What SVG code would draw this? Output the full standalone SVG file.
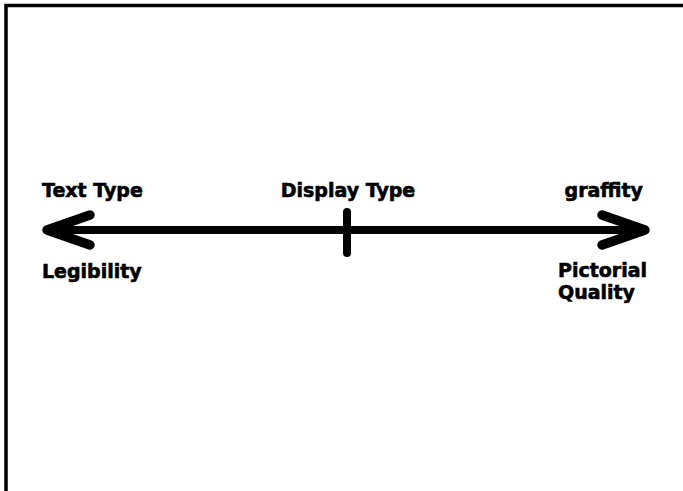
<svg xmlns="http://www.w3.org/2000/svg" width="683" height="491" viewBox="0 0 683 491">
  <style>
    .lbl { font-family: "DejaVu Sans", "Liberation Sans", sans-serif; font-weight: bold; font-size: 19px; fill: #000; stroke: #000; stroke-width: 0.6; }
    .ln { stroke: #000; stroke-linecap: round; stroke-linejoin: round; fill: none; }
  </style>
  <rect width="683" height="491" fill="#fff"/>
  <!-- frame: top and left edges -->
  <path d="M6,491 V5.5 H683" stroke="#000" stroke-width="3.5" fill="none"/>
  <g id="connectors">
    <line class="ln" x1="50" y1="230" x2="642" y2="230" stroke-width="8"/>
    <polyline class="ln" points="90,215 47,230 90,245" stroke-width="9.5"/>
    <polyline class="ln" points="602,215 645,230 602,245" stroke-width="9.5"/>
  </g>
  <g id="tick">
    <line class="ln" x1="347" y1="212" x2="347" y2="253" stroke-width="8"/>
  </g>
  <g id="text-type"><text class="lbl" x="42" y="197">Text Type</text></g>
  <g id="display-type"><text class="lbl" x="348" y="197" text-anchor="middle">Display Type</text></g>
  <g id="graffity"><text class="lbl" x="643" y="197" text-anchor="end">graffity</text></g>
  <g id="legibility"><text class="lbl" x="42" y="278">Legibility</text></g>
  <g id="pictorial-quality"><text class="lbl" x="558" y="277">Pictorial<tspan x="558" y="299">Quality</tspan></text></g>
</svg>
